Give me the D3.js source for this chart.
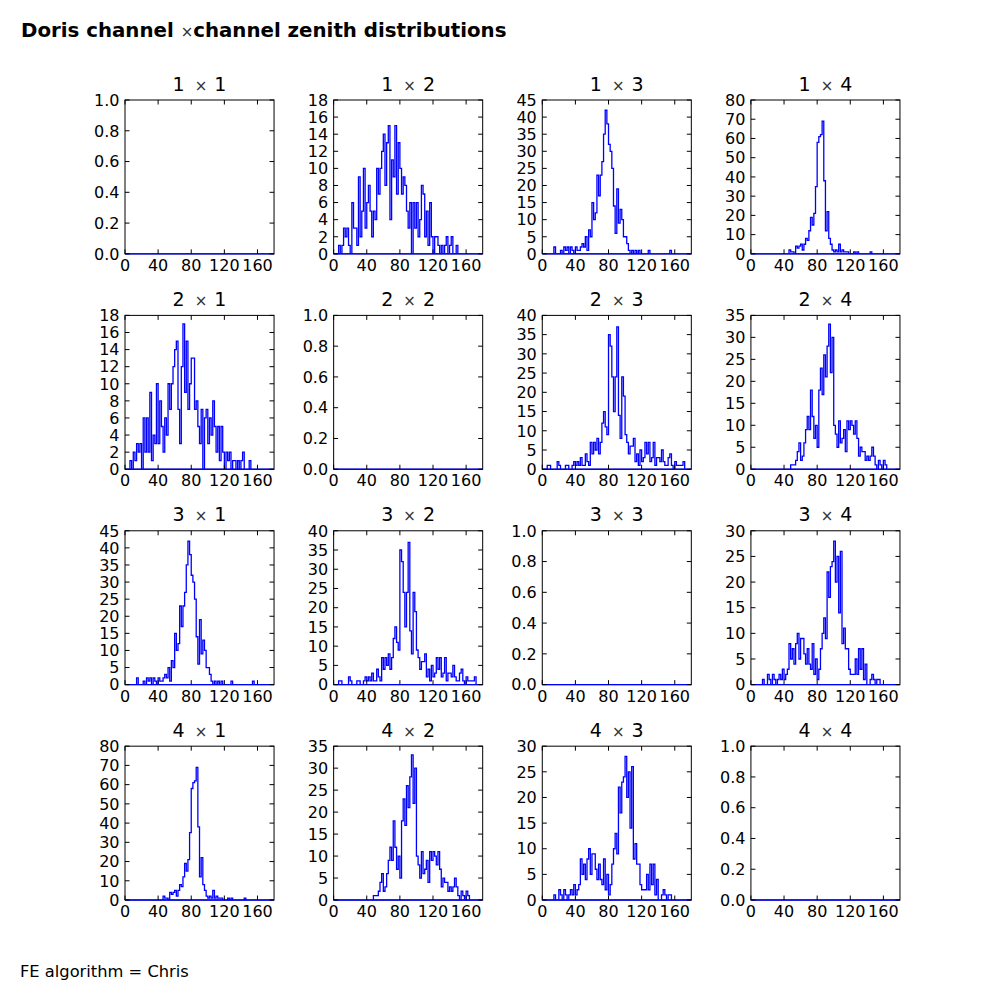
<!DOCTYPE html>
<html lang="en">
<head>
<meta charset="UTF-8">
<title>Doris channel x channel zenith distributions</title>
<script src="https://d3js.org/d3.v7.min.js"></script>
<style>
  body { margin: 0; background: #fff; }
  svg { display: block; font-family: "DejaVu Sans", sans-serif; }
  .tick-label { font-size: 16px; fill: #000; }
  .panel-title { font-size: 19px; fill: #000; }
  .hist { fill: none; stroke: #0000ff; stroke-width: 1.3px; }
  .frame { fill: none; stroke: #000; stroke-width: 1px; }
  .tick { stroke: #000; stroke-width: 1px; }
</style>
</head>
<body>
<svg id="chart"></svg>
<script>
// zenith angle histograms, 2 degree bins from 0 to 180
var binEdges = d3.range(0, 181, 2);
var xTicks = [0, 40, 80, 120, 160];

var ch1x2 = [
  0, 0, 0, 1, 0, 1, 3, 2, 3, 1, 0, 6, 3, 3, 1, 9, 2, 5, 10, 3,
  6, 8, 5, 2, 5, 4, 10, 7, 10, 12, 14, 8, 13, 15, 4, 11, 9, 15, 7, 13,
  10, 7, 9, 8, 5, 3, 6, 0, 6, 3, 6, 2, 4, 8, 7, 2, 5, 1, 6, 2,
  0, 2, 2, 1, 0, 1, 0, 1, 2, 0, 1, 2, 0, 0, 1, 0, 0, 0, 0, 0,
  0, 0, 0, 0, 0, 0, 0, 0, 0, 0
];
var ch2x1 = [
  0, 0, 0, 1, 0, 2, 1, 3, 2, 3, 0, 6, 2, 6, 2, 9, 1, 4, 3, 10,
  3, 8, 5, 2, 6, 4, 10, 7, 10, 12, 14, 15, 7, 3, 12, 17, 9, 15, 7, 10,
  13, 13, 7, 8, 5, 3, 7, 0, 6, 7, 3, 6, 4, 8, 5, 2, 5, 1, 5, 2,
  0, 2, 1, 2, 0, 1, 1, 0, 1, 0, 1, 2, 0, 0, 0, 1, 0, 0, 0, 0,
  0, 0, 0, 0, 0, 0, 0, 0, 0, 0
];
var ch1x3 = [
  0, 0, 0, 0, 0, 0, 0, 2, 0, 0, 0, 1, 0, 2, 1, 2, 0, 2, 1, 0,
  2, 1, 1, 2, 3, 2, 5, 1, 7, 5, 15, 10, 12, 23, 17, 23, 27, 35, 42, 38,
  32, 30, 25, 14, 6, 19, 9, 13, 10, 5, 5, 3, 1, 0, 1, 0, 1, 0, 1, 0,
  0, 0, 0, 0, 1, 0, 0, 0, 0, 0, 0, 0, 0, 0, 0, 0, 0, 1, 0, 0,
  0, 0, 0, 0, 0, 0, 0, 0, 0, 0
];
var ch1x4 = [
  0, 0, 0, 0, 0, 0, 0, 0, 0, 0, 0, 0, 0, 0, 0, 0, 0, 0, 0, 0,
  0, 0, 0, 2, 1, 1, 0, 4, 3, 4, 5, 2, 5, 8, 7, 12, 19, 15, 21, 35,
  58, 61, 62, 69, 38, 12, 22, 8, 5, 2, 1, 2, 1, 5, 1, 2, 1, 1, 1, 0,
  0, 0, 1, 0, 1, 0, 0, 0, 0, 0, 0, 0, 1, 0, 0, 0, 0, 0, 0, 0,
  0, 0, 0, 0, 0, 0, 0, 0, 0, 0
];
var ch2x3 = [
  0, 0, 0, 1, 1, 0, 0, 0, 0, 2, 1, 0, 0, 0, 1, 1, 0, 0, 1, 2,
  1, 2, 1, 3, 1, 1, 4, 2, 1, 7, 4, 7, 5, 8, 4, 7, 12, 15, 11, 9,
  35, 32, 24, 15, 24, 37, 14, 8, 24, 19, 9, 7, 4, 6, 6, 8, 2, 4, 1, 5,
  2, 3, 7, 4, 7, 2, 3, 7, 1, 3, 3, 2, 5, 2, 1, 1, 3, 4, 1, 0,
  2, 1, 1, 1, 1, 2, 0, 0, 0, 0
];
var ch2x4 = [
  0, 0, 0, 0, 0, 0, 0, 0, 0, 0, 0, 0, 0, 0, 0, 0, 0, 0, 0, 0,
  0, 0, 0, 0, 1, 1, 1, 2, 4, 6, 2, 3, 6, 9, 12, 9, 18, 12, 7, 10,
  5, 18, 23, 17, 26, 21, 28, 33, 22, 30, 10, 8, 5, 11, 6, 7, 9, 4, 11, 9,
  11, 10, 8, 11, 7, 3, 5, 4, 4, 2, 3, 2, 3, 5, 3, 1, 0, 2, 1, 0,
  2, 1, 0, 0, 0, 0, 0, 0, 0, 0
];
var ch3x4 = [
  0, 0, 0, 0, 0, 0, 0, 1, 0, 0, 2, 1, 0, 2, 1, 0, 1, 2, 1, 3,
  1, 2, 3, 8, 5, 7, 4, 8, 10, 5, 9, 9, 6, 4, 7, 4, 3, 8, 2, 5,
  1, 3, 7, 10, 13, 9, 22, 17, 23, 24, 28, 20, 25, 14, 26, 8, 11, 7, 7, 3,
  2, 2, 2, 5, 2, 7, 3, 7, 1, 4, 0, 0, 1, 2, 1, 0, 1, 1, 0, 0,
  0, 0, 0, 0, 0, 0, 0, 0, 0, 0
];
var chSame = [
  0, 0, 0, 0, 0, 0, 0, 0, 0, 0, 0, 0, 0, 0, 0, 0, 0, 0, 0, 0,
  0, 0, 0, 0, 0, 0, 0, 0, 0, 0, 0, 0, 0, 0, 0, 0, 0, 0, 0, 0,
  0, 0, 0, 0, 0, 0, 0, 0, 0, 0, 0, 0, 0, 0, 0, 0, 0, 0, 0, 0,
  0, 0, 0, 0, 0, 0, 0, 0, 0, 0, 0, 0, 0, 0, 0, 0, 0, 0, 0, 0,
  0, 0, 0, 0, 0, 0, 0, 0, 0, 0
];

// rows = first channel, columns = second channel
var panelData = [
  [chSame, ch1x2, ch1x3, ch1x4],
  [ch2x1, chSame, ch2x3, ch2x4],
  [ch1x3, ch2x3, chSame, ch3x4],
  [ch1x4, ch2x4, ch3x4, chSame]
];
var yMax = [
  [1, 18, 45, 80],
  [18, 1, 40, 35],
  [45, 40, 1, 30],
  [80, 35, 30, 1]
];
var yStep = [
  [0.2, 2, 5, 10],
  [2, 0.2, 5, 5],
  [5, 5, 0.2, 5],
  [10, 5, 5, 0.2]
];

var width = 1000, height = 1000;
var left = 125, top0 = 100;
var cellW = 149.04, cellH = 153.85;
var gapX = 59.6, gapY = 61.54;
var tickLen = 4.5;

var svg = d3.select('#chart')
    .attr('width', width)
    .attr('height', height);

// figure title
var sup = svg.append('text')
    .attr('x', 21)
    .attr('y', 37)
    .style('font-size', '19.8px')
    .style('font-weight', 'bold');
sup.append('tspan').text('Doris channel ');
sup.append('tspan').text('\u00d7')
    .style('font-weight', 'normal')
    .style('font-size', '15px')
    .style('fill', '#333');
sup.append('tspan').text('channel zenith distributions');

svg.append('text')
    .attr('x', 20)
    .attr('y', 977)
    .style('font-size', '16.3px')
    .text('FE algorithm = Chris');

var line = d3.line();

panelData.forEach(function(row, r) {
  row.forEach(function(counts, c) {
    var gx = left + c * (cellW + gapX);
    var gy = top0 + r * (cellH + gapY);
    var g = svg.append('g').attr('transform', 'translate(' + gx + ',' + gy + ')');

    var x = d3.scaleLinear().domain([0, 180]).range([0, cellW]);
    var y = d3.scaleLinear().domain([0, yMax[r][c]]).range([cellH, 0]);
    var step = yStep[r][c];
    var yTicks = d3.range(0, yMax[r][c] + step / 2, step);
    var fmt = step < 1 ? d3.format('.1f') : d3.format('d');

    g.append('rect').attr('class', 'frame')
        .attr('x', 0).attr('y', 0)
        .attr('width', cellW).attr('height', cellH);

    // step outline of the histogram
    var pts = [[x(0), y(0)]];
    counts.forEach(function(v, i) {
      pts.push([x(binEdges[i]), y(v)]);
      pts.push([x(binEdges[i + 1]), y(v)]);
    });
    pts.push([x(180), y(0)]);
    g.append('path').attr('class', 'hist')
        .attr('d', line(pts) + 'Z');

    // inward ticks on all four sides
    xTicks.forEach(function(t) {
      g.append('line').attr('class', 'tick')
          .attr('x1', x(t)).attr('x2', x(t))
          .attr('y1', cellH).attr('y2', cellH - tickLen);
      g.append('line').attr('class', 'tick')
          .attr('x1', x(t)).attr('x2', x(t))
          .attr('y1', 0).attr('y2', tickLen);
      g.append('text').attr('class', 'tick-label')
          .attr('x', x(t)).attr('y', cellH + 17)
          .attr('text-anchor', 'middle')
          .text(t);
    });
    yTicks.forEach(function(t) {
      g.append('line').attr('class', 'tick')
          .attr('x1', 0).attr('x2', tickLen)
          .attr('y1', y(t)).attr('y2', y(t));
      g.append('line').attr('class', 'tick')
          .attr('x1', cellW).attr('x2', cellW - tickLen)
          .attr('y1', y(t)).attr('y2', y(t));
      g.append('text').attr('class', 'tick-label')
          .attr('x', -5.5).attr('y', y(t))
          .attr('dy', '0.36em')
          .attr('text-anchor', 'end')
          .text(fmt(t));
    });

    // panel title "i x j"
    var title = g.append('text').attr('class', 'panel-title')
        .attr('x', cellW / 2).attr('y', -9.5)
        .attr('text-anchor', 'middle');
    title.append('tspan').text((r + 1) + ' ');
    title.append('tspan').text('\u00d7')
        .attr('dx', 4)
        .style('font-size', '15px')
        .style('fill', '#333');
    title.append('tspan').text(' ' + (c + 1))
        .attr('dx', 1);
  });
});
</script>
</body>
</html>
